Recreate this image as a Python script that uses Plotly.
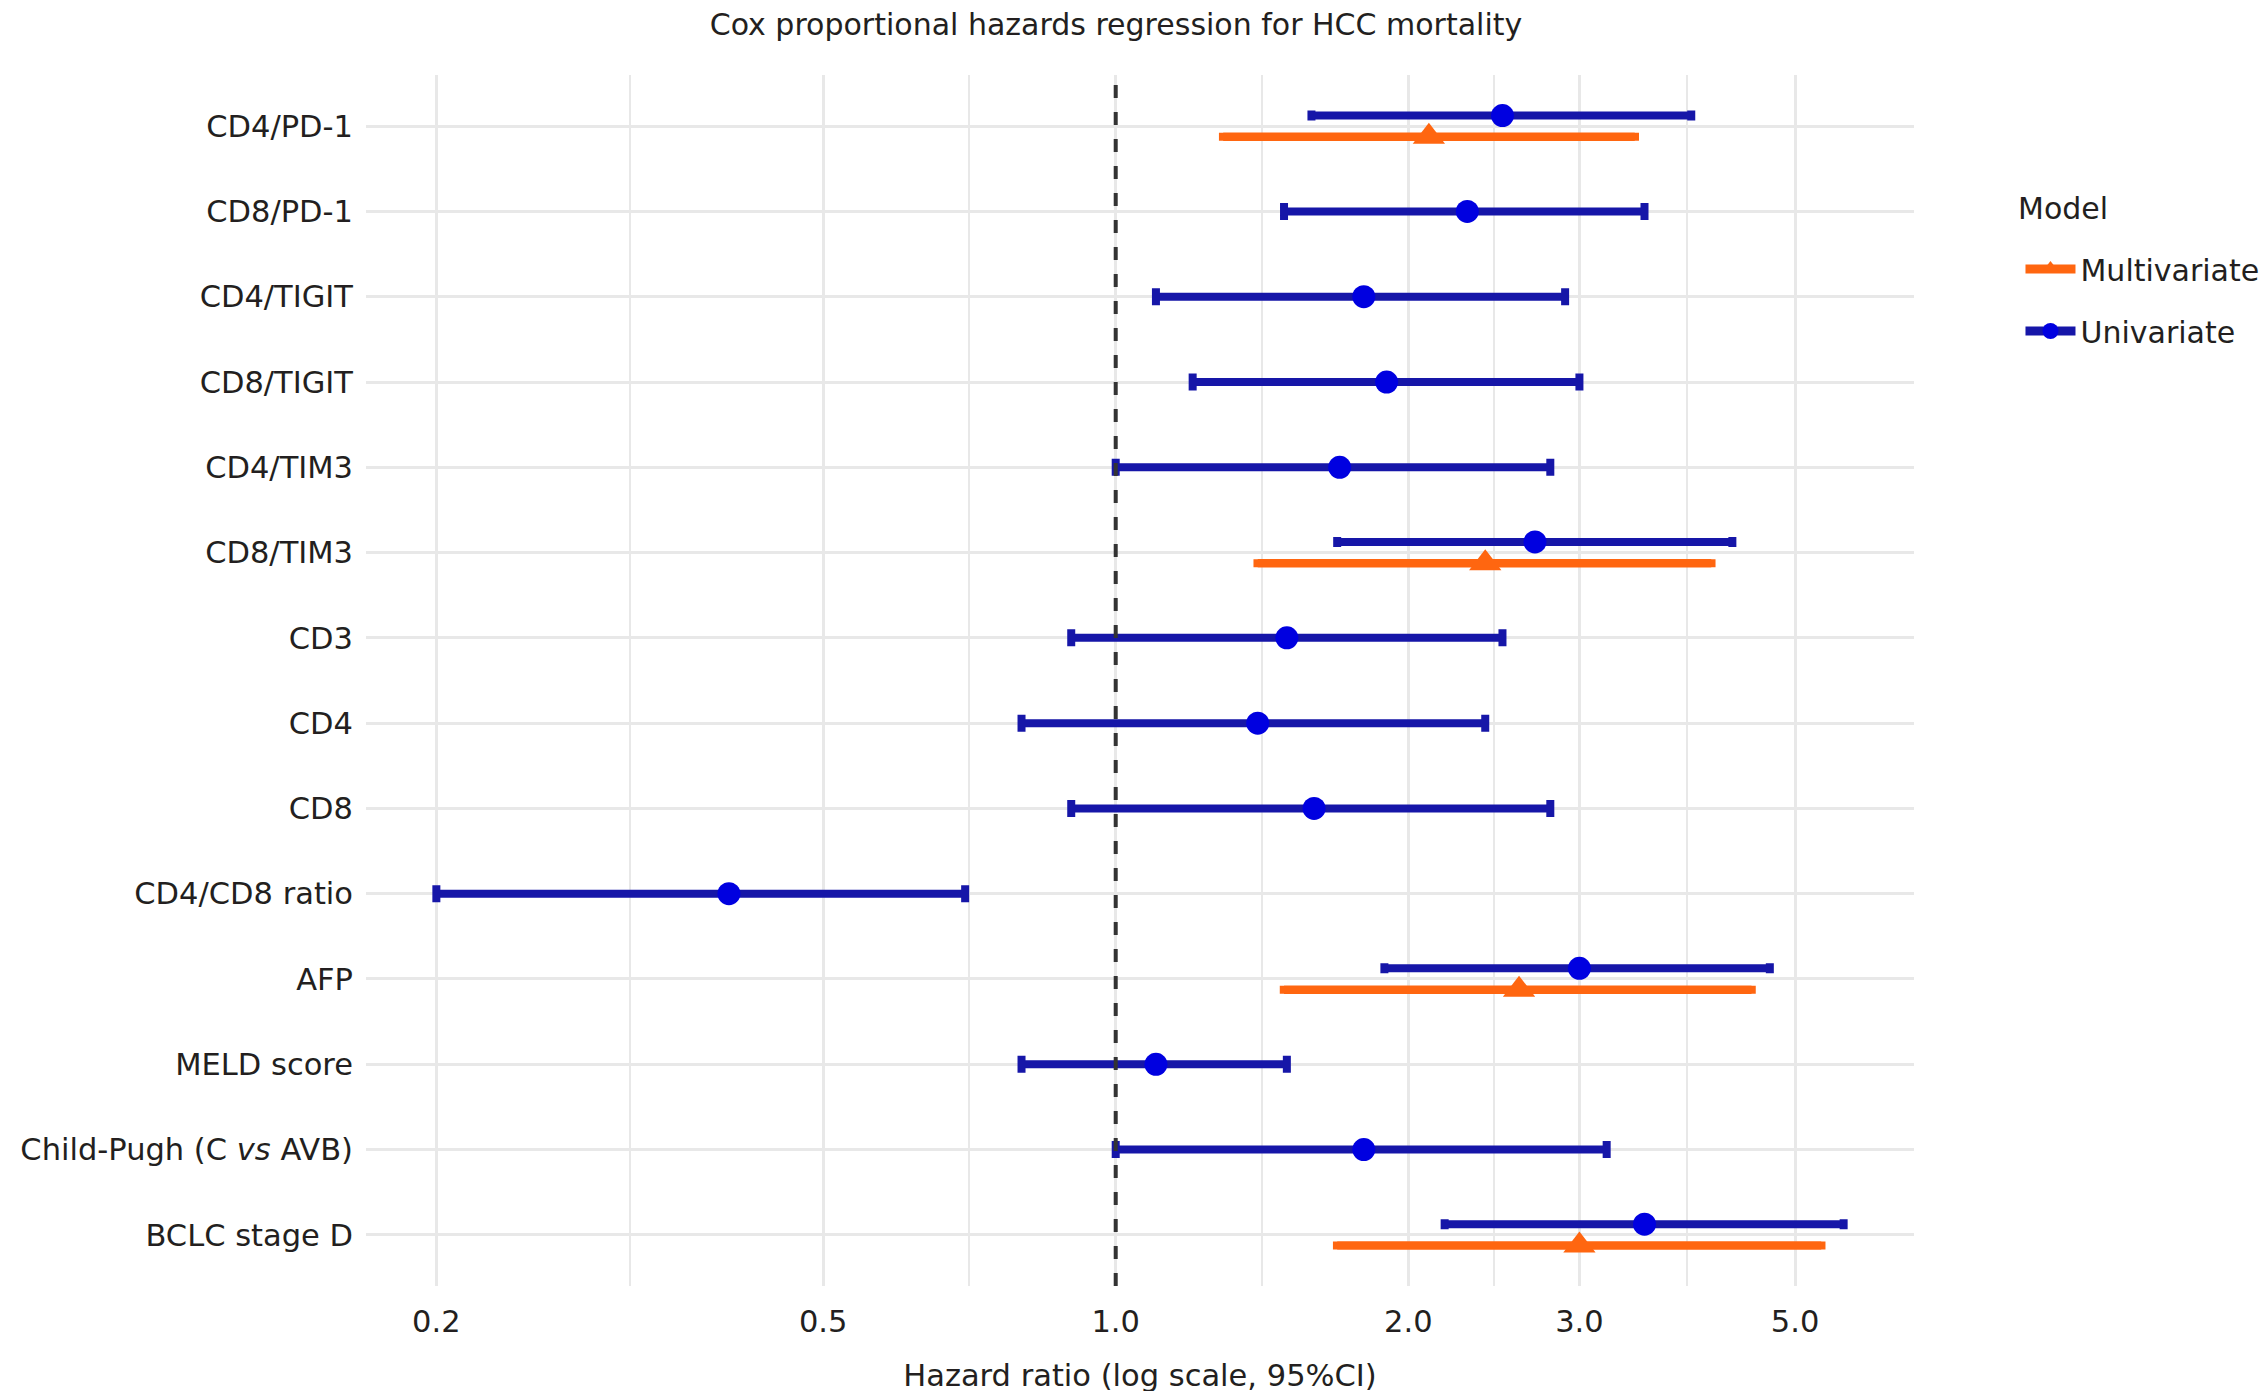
import math
import plotly.graph_objects as go

# ---------------- data ----------------
categories = [
    "CD4/PD-1", "CD8/PD-1", "CD4/TIGIT", "CD8/TIGIT", "CD4/TIM3", "CD8/TIM3",
    "CD3", "CD4", "CD8", "CD4/CD8 ratio", "AFP", "MELD score",
    "Child-Pugh (C <i>vs</i> AVB)", "BCLC stage D",
]
uni_hr = [2.50, 2.30, 1.80, 1.90, 1.70, 2.70, 1.50, 1.40, 1.60, 0.40, 3.00, 1.10, 1.80, 3.50]
uni_lo = [1.59, 1.49, 1.10, 1.20, 1.00, 1.69, 0.90, 0.80, 0.90, 0.20, 1.89, 0.80, 1.00, 2.18]
uni_hi = [3.91, 3.50, 2.90, 3.00, 2.80, 4.31, 2.50, 2.40, 2.80, 0.70, 4.71, 1.50, 3.20, 5.61]

multi_hr = [2.10, None, None, None, None, 2.40, None, None, None, None, 2.60, None, None, 3.00]
multi_lo = [1.29, None, None, None, None, 1.40, None, None, None, None, 1.49, None, None, 1.69]
multi_hi = [3.42, None, None, None, None, 4.10, None, None, None, None, 4.51, None, None, 5.32]

major_ticks = [0.2, 0.5, 1.0, 2.0, 3.0, 5.0]
major_labels = ["0.2", "0.5", "1.0", "2.0", "3.0", "5.0"]
REF_HR = 1.0

# ---------------- styling ----------------
FONT = "DejaVu Sans"
TXT = "#231f20"
BLUE_LINE = "#1616a8"
BLUE_PT = "#0000e0"
ORANGE = "#ff6610"
GRID = "#e8e8e8"
DODGE = 0.125
FS = 30.5

W, H = 2268, 1391
ML, MR, MT, MB = 356, 342, 67, 113
PW, PH = W - ML - MR, H - MT - MB

n = len(categories)
idx = list(range(n))
has_multi = [m is not None for m in multi_hr]


def pick(seq, ids):
    return [seq[i] for i in ids]


fig = go.Figure()

# univariate: rows without a multivariate estimate (centred, wide caps)
for dodged in (False, True):
    ids = [i for i in idx if has_multi[i] == dodged]
    hr, lo, hi = pick(uni_hr, ids), pick(uni_lo, ids), pick(uni_hi, ids)
    fig.add_trace(go.Scatter(
        x=hr, y=[i - DODGE if dodged else i for i in ids],
        mode="markers", showlegend=False,
        marker=dict(symbol="circle", size=23, color=BLUE_PT),
        error_x=dict(type="data", symmetric=False,
                     array=[h - v for h, v in zip(hi, hr)],
                     arrayminus=[v - l for v, l in zip(hr, lo)],
                     color=BLUE_LINE, thickness=8, width=5 if dodged else 8.5),
    ))

m_ids = [i for i in idx if has_multi[i]]
m_hr, m_lo, m_hi = pick(multi_hr, m_ids), pick(multi_lo, m_ids), pick(multi_hi, m_ids)
fig.add_trace(go.Scatter(
    x=m_hr, y=[i + DODGE for i in m_ids], mode="markers", showlegend=False,
    marker=dict(symbol="triangle-up", size=28, color=ORANGE),
    error_x=dict(type="data", symmetric=False,
                 array=[h - v for h, v in zip(m_hi, m_hr)],
                 arrayminus=[v - l for v, l in zip(m_hr, m_lo)],
                 color=ORANGE, thickness=8.5, width=4),
))

# legend entries
fig.add_trace(go.Scatter(
    x=[None], y=[None], mode="lines+markers", name="Multivariate",
    legendgroup="m", line=dict(color=ORANGE, width=9),
    marker=dict(symbol="triangle-up", size=28, color=ORANGE),
))
fig.add_trace(go.Scatter(
    x=[None], y=[None], mode="lines+markers", name="Univariate",
    legendgroup="u", line=dict(color=BLUE_LINE, width=9),
    marker=dict(symbol="circle", size=23, color=BLUE_PT),
))

# reference line
fig.add_shape(type="line", xref="x", yref="paper", x0=REF_HR, x1=REF_HR, y0=0, y1=1,
              line=dict(color="#333333", width=4, dash="13px,14px"), layer="above")

# legend title (pixel anchored)
fig.add_annotation(text="Model", xref="paper", yref="paper",
                   x=(2029 - ML) / PW, y=(H - MB - 200) / PH,
                   xanchor="left", yanchor="middle", showarrow=False,
                   font=dict(size=30, color=TXT))

all_lo = uni_lo + [v for v in multi_lo if v is not None]
all_hi = uni_hi + [v for v in multi_hi if v is not None]
lmin, lmax = math.log10(min(all_lo)), math.log10(max(all_hi))
pad = 0.05 * (lmax - lmin)
minor_ticks = [math.sqrt(a * b) for a, b in zip(major_ticks[:-1], major_ticks[1:])]

fig.update_layout(
    width=W, height=H,
    paper_bgcolor="white", plot_bgcolor="white",
    margin=dict(l=ML, r=MR, t=MT, b=MB),
    font=dict(family=FONT, size=FS, color=TXT),
    title=dict(text="Cox proportional hazards regression for HCC mortality",
               x=1108 / W, xref="container", xanchor="center", y=0.988, yanchor="middle",
               font=dict(size=30, color=TXT)),
    legend=dict(x=(2034 - ML) / PW, xanchor="left", y=(H - MB - 235) / PH, yanchor="top",
                tracegroupgap=20, itemwidth=50, font=dict(size=30),
                bgcolor="rgba(0,0,0,0)"),
    showlegend=True,
)

fig.update_xaxes(
    type="log", range=[lmin - pad, lmax + pad],
    tickmode="array", tickvals=major_ticks, ticktext=major_labels,
    showgrid=True, gridcolor=GRID, gridwidth=2.5,
    minor=dict(tickmode="array", tickvals=minor_ticks, showgrid=True,
               gridcolor=GRID, gridwidth=2, ticks=""),
    zeroline=False, showline=False, ticks="", ticklabelstandoff=14,
    title=dict(text="Hazard ratio (log scale, 95%CI)", standoff=27,
               font=dict(size=FS)),
    tickfont=dict(size=FS),
)
fig.update_yaxes(
    range=[n - 1 + 0.6, -0.6],
    tickmode="array", tickvals=idx, ticktext=categories,
    showgrid=True, gridcolor=GRID, gridwidth=2.5,
    zeroline=False, showline=False, ticks="", ticklabelstandoff=12,
    tickfont=dict(size=FS),
)

fig.write_html("out.html")
